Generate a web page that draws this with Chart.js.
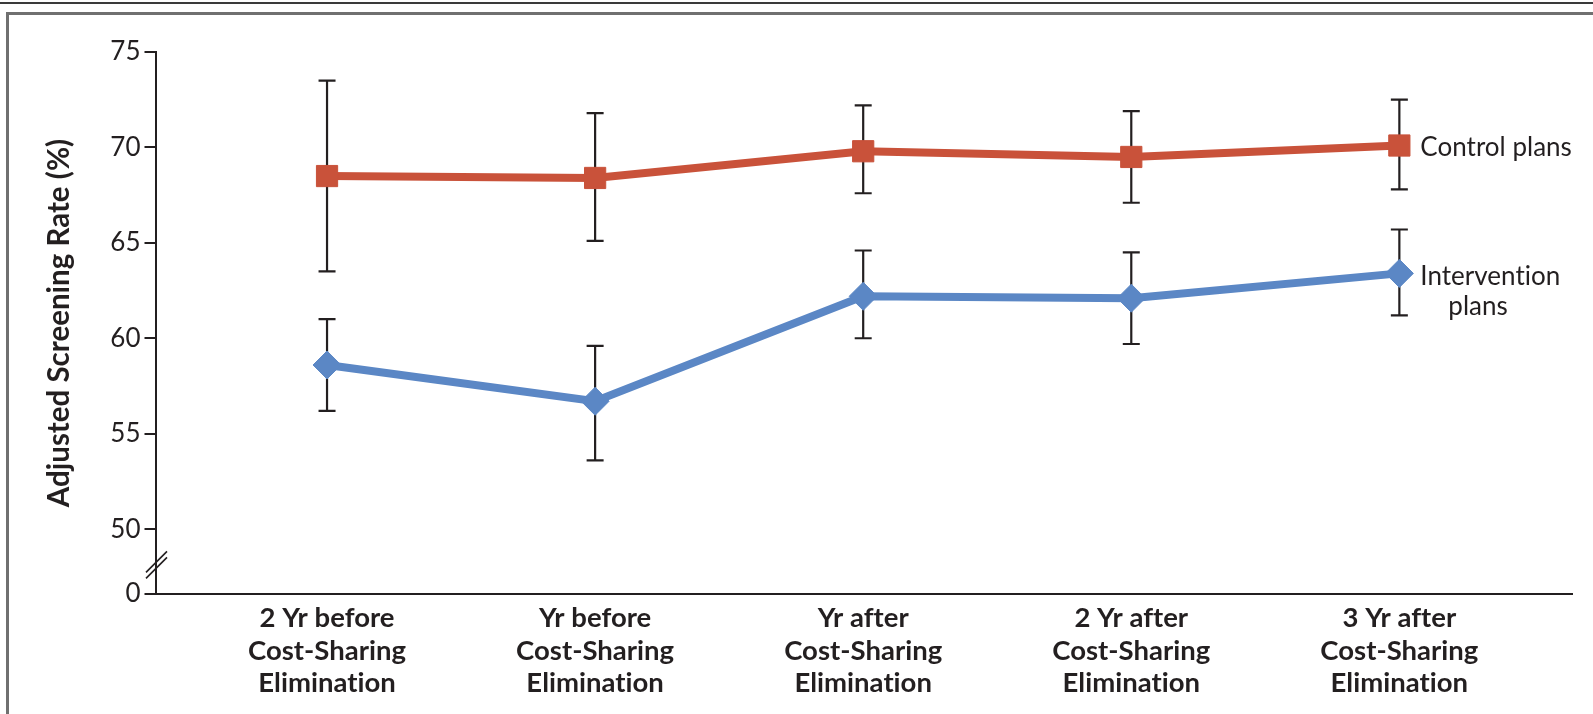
<!DOCTYPE html>
<html>
<head>
<meta charset="utf-8">
<script src="https://cdn.jsdelivr.net/npm/chart.js@4"></script>
<style>
  html, body { margin: 0; padding: 0; background: #fff; }
  #wrap { position: relative; width: 1593px; height: 714px; overflow: hidden; }
  .rule { position: absolute; left: 0; top: 2px; width: 1593px; height: 2px; background: #3a3a3a; }
  .frame { position: absolute; left: 6px; top: 12px; width: 1700px; height: 800px;
           border-left: 3px solid #707070; border-top: 3px solid #707070; }
  canvas { position: absolute; left: 0; top: 0; }
</style>
</head>
<body>
<div id="wrap">
  <div class="rule"></div>
  <div class="frame"></div>
  <canvas id="c" width="1593" height="714"></canvas>
</div>
<script>
// Periods relative to the elimination of cost sharing
const periods = [
  ['2 Yr before', 'Cost-Sharing', 'Elimination'],
  ['Yr before', 'Cost-Sharing', 'Elimination'],
  ['Yr after', 'Cost-Sharing', 'Elimination'],
  ['2 Yr after', 'Cost-Sharing', 'Elimination'],
  ['3 Yr after', 'Cost-Sharing', 'Elimination']
];

// Adjusted screening rates (%) with 95% confidence limits
const controlRate = [68.5, 68.4, 69.8, 69.5, 70.1];
const controlLow = [63.5, 65.1, 67.6, 67.1, 67.8];
const controlHigh = [73.5, 71.8, 72.2, 71.9, 72.5];

const interventionRate = [58.6, 56.7, 62.2, 62.1, 63.4];
const interventionLow = [56.2, 53.6, 60.0, 59.7, 61.2];
const interventionHigh = [61.0, 59.6, 64.6, 64.5, 65.7];

// Y axis ticks; the axis is broken between 0 and 50
const yTicks = [0, 50, 55, 60, 65, 70, 75];
const Y_FLOOR = 46.6;   // axis position standing in for 0 below the break
const Y_BREAK = 48.1;   // where the break marks sit

const INK = '#231f20';
const RED = '#c9523a';
const BLUE = '#5b87c5';
const FONT = 'Lato, "DejaVu Sans", sans-serif';

const toPoints = arr => arr.map((v, i) => ({ x: i, y: v }));

// a tiny letter spacing keeps "ti" from turning into a ligature
const textSetup = {
  id: 'textSetup',
  beforeDraw(chart) { chart.ctx.letterSpacing = '0.01px'; }
};

const errorBars = {
  id: 'errorBars',
  beforeDatasetsDraw(chart) {
    const { ctx, scales: { x, y } } = chart;
    ctx.save();
    ctx.strokeStyle = INK;
    ctx.lineWidth = 2.2;
    chart.data.datasets.forEach(ds => {
      ds.low.forEach((lo, i) => {
        const px = x.getPixelForValue(i);
        const y1 = y.getPixelForValue(lo);
        const y2 = y.getPixelForValue(ds.high[i]);
        ctx.beginPath();
        ctx.moveTo(px, y1); ctx.lineTo(px, y2);
        ctx.moveTo(px - 8.5, y1); ctx.lineTo(px + 8.5, y1);
        ctx.moveTo(px - 8.5, y2); ctx.lineTo(px + 8.5, y2);
        ctx.stroke();
      });
    });
    ctx.restore();
  }
};

const annotations = {
  id: 'annotations',
  afterDatasetsDraw(chart) {
    const { ctx, scales: { x, y } } = chart;
    ctx.save();
    ctx.fillStyle = INK;
    ctx.font = '26px ' + FONT;
    ctx.textBaseline = 'middle';
    ctx.textAlign = 'left';
    const last = periods.length - 1;
    const lx = x.getPixelForValue(last);
    ctx.fillText('Control plans', lx + 21, y.getPixelForValue(controlRate[last]) + 2);
    const iy = y.getPixelForValue(interventionRate[last]);
    ctx.fillText('Intervention', lx + 21, iy + 3);
    ctx.fillText('plans', lx + 49, iy + 33);

    // axis break marks
    const ax = chart.chartArea.left;
    const by = y.getPixelForValue(Y_BREAK);
    ctx.strokeStyle = INK;
    ctx.lineWidth = 1.6;
    ctx.beginPath();
    [-3, 3].forEach(d => {
      ctx.moveTo(ax - 10, by + d + 10);
      ctx.lineTo(ax + 11, by + d - 11);
    });
    ctx.stroke();
    ctx.restore();
  }
};

new Chart(document.getElementById('c'), {
  type: 'line',
  data: {
    datasets: [
      {
        label: 'Control plans',
        data: toPoints(controlRate),
        low: controlLow,
        high: controlHigh,
        borderColor: RED,
        backgroundColor: RED,
        borderWidth: 8,
        pointStyle: 'rect',
        pointRadius: 15,
        pointBorderWidth: 1,
        pointBorderColor: RED,
        pointBackgroundColor: RED
      },
      {
        label: 'Intervention plans',
        data: toPoints(interventionRate),
        low: interventionLow,
        high: interventionHigh,
        borderColor: BLUE,
        backgroundColor: BLUE,
        borderWidth: 8,
        pointStyle: 'rectRot',
        pointRadius: 14,
        pointBorderWidth: 1,
        pointBorderColor: BLUE,
        pointBackgroundColor: BLUE
      }
    ]
  },
  options: {
    responsive: false,
    animation: false,
    devicePixelRatio: 1,
    clip: false,
    layout: { padding: { top: 52, right: 21, bottom: 0, left: 0 } },
    plugins: { legend: { display: false }, tooltip: { enabled: false } },
    scales: {
      x: {
        type: 'linear',
        min: -0.638,
        max: 4.644,
        afterBuildTicks: s => { s.ticks = periods.map((_, i) => ({ value: i })); },
        afterFit: s => { s.height = 120; },
        grid: { display: false, drawTicks: false },
        border: { display: true, color: INK, width: 2 },
        ticks: {
          color: INK,
          padding: 8,
          autoSkip: false,
          maxRotation: 0,
          font: { family: FONT, size: 27.5, weight: 'bold', lineHeight: '32.5px' },
          callback: v => periods[v]
        }
      },
      y: {
        min: Y_FLOOR,
        max: 75,
        afterBuildTicks: s => { s.ticks = yTicks.map(v => ({ value: v === 0 ? Y_FLOOR : v })); },
        afterFit: s => { s.width = 156; },
        grid: { display: true, drawOnChartArea: false, drawTicks: true, tickLength: 11.5, color: INK, lineWidth: 2 },
        border: { display: true, color: INK, width: 2 },
        ticks: {
          color: INK,
          padding: 4,
          font: { family: FONT, size: 26 },
          callback: v => (v === Y_FLOOR ? '0' : String(v))
        },
        title: {
          display: true,
          text: 'Adjusted Screening Rate (%)',
          color: INK,
          padding: { top: 42, bottom: 0 },
          font: { family: FONT, size: 29.5, weight: 'bold' }
        }
      }
    }
  },
  plugins: [textSetup, errorBars, annotations]
});
</script>
</body>
</html>
